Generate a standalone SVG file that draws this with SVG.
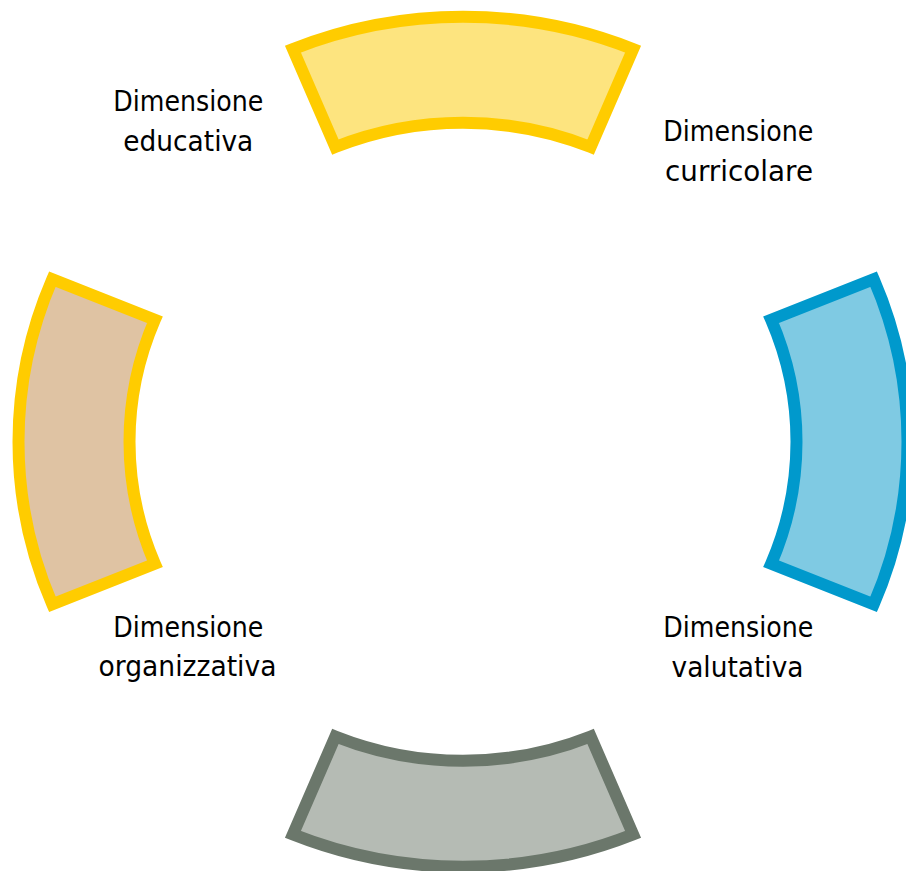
<svg xmlns="http://www.w3.org/2000/svg" width="906" height="871" viewBox="0 0 906 871">
<style>
.seg{stroke-width:12;stroke-linejoin:miter;stroke-miterlimit:10}
.lbl{font-family:"DejaVu Sans","Liberation Sans",sans-serif;font-size:28.5px;fill:#000;text-anchor:middle}
</style>
<rect width="906" height="871" fill="#fff"/>
<g id="seg-top"><path class="seg" fill="#FDE47F" stroke="#FFCC00" d="M292.9,49.1 A444.5,425 0 0 1 633.1,49.1 L590.62,147.03 A333.5,319 0 0 0 335.38,147.03 Z"/></g>
<g id="seg-right"><path class="seg" fill="#7FCAE3" stroke="#0099CC" d="M873.66,279.11 A444.5,425 0 0 1 873.66,604.39 L771.11,563.82 A333.5,319 0 0 0 771.11,319.68 Z"/></g>
<g id="seg-bottom"><path class="seg" fill="#B5BBB4" stroke="#6B776B" d="M633.1,834.4 A444.5,425 0 0 1 292.9,834.4 L335.38,736.47 A333.5,319 0 0 0 590.62,736.47 Z"/></g>
<g id="seg-left"><path class="seg" fill="#DFC3A3" stroke="#FFCC00" d="M52.34,604.39 A444.5,425 0 0 1 52.34,279.11 L154.89,319.68 A333.5,319 0 0 0 154.89,563.82 Z"/></g>
<g id="connectors"></g>
<g id="label-educativa">
<text class="lbl" x="188.3" y="111" textLength="150" lengthAdjust="spacingAndGlyphs">Dimensione</text>
<text class="lbl" x="188.3" y="151" textLength="130" lengthAdjust="spacingAndGlyphs">educativa</text>
</g>
<g id="label-curricolare">
<text class="lbl" x="738.3" y="141" textLength="150" lengthAdjust="spacingAndGlyphs">Dimensione</text>
<text class="lbl" x="739" y="181" textLength="148" lengthAdjust="spacingAndGlyphs">curricolare</text>
</g>
<g id="label-organizzativa">
<text class="lbl" x="188.3" y="637" textLength="150" lengthAdjust="spacingAndGlyphs">Dimensione</text>
<text class="lbl" x="187.5" y="676" textLength="178" lengthAdjust="spacingAndGlyphs">organizzativa</text>
</g>
<g id="label-valutativa">
<text class="lbl" x="738.3" y="637" textLength="150" lengthAdjust="spacingAndGlyphs">Dimensione</text>
<text class="lbl" x="737.5" y="677" textLength="132" lengthAdjust="spacingAndGlyphs">valutativa</text>
</g>
</svg>
